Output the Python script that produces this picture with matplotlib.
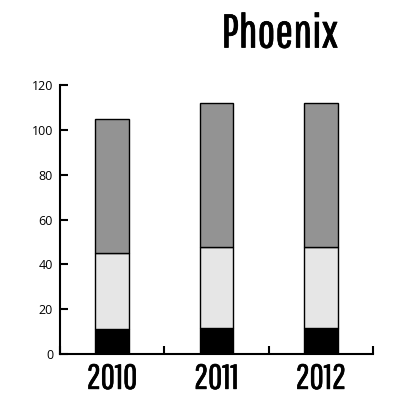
import matplotlib
matplotlib.use('Agg')
import matplotlib.pyplot as plt
import matplotlib.patheffects as pe
import numpy as np

years = ['2010', '2011', '2012']
black_vals = [11.2, 11.4, 11.4]
light_vals = [34.1, 36.4, 36.4]
dark_vals = [59.8, 64.3, 64.3]

narrow = ['Pathway Gothic One', 'DejaVu Sans']
thick = [pe.withStroke(linewidth=0.5, foreground='black')]

fig = plt.figure(figsize=(4, 4), dpi=100)
ax = fig.add_axes([0.15, 0.115, 0.7825, 0.6715])

x = np.arange(len(years))
w = 0.32
bottom1 = np.array(black_vals)
bottom2 = bottom1 + np.array(light_vals)
ax.bar(x, black_vals, w, color='black', edgecolor='black', linewidth=1)
ax.bar(x, light_vals, w, bottom=bottom1, color='#e6e6e6', edgecolor='black', linewidth=1)
ax.bar(x, dark_vals, w, bottom=bottom2, color='#939393', edgecolor='black', linewidth=1)

ax.set_xlim(-0.5, 2.5)
ax.set_ylim(0, 120)
ax.set_yticks(range(0, 121, 20))
ax.tick_params(axis='y', direction='in', length=6, width=1.5, labelsize=9, pad=5)
for lab in ax.get_yticklabels():
    lab.set_family(['Open Sans', 'DejaVu Sans'])
ax.set_xticks([-0.5, 0.5, 1.5, 2.5])
ax.set_xticklabels([])
ax.tick_params(axis='x', direction='in', length=6, width=1.5)
for i, yr in enumerate(years):
    ax.text(i, -3.5, yr, ha='center', va='top', fontsize=25, family=narrow,
            path_effects=thick)

for s in ['top', 'right']:
    ax.spines[s].set_visible(False)
for s in ['left', 'bottom']:
    ax.spines[s].set_linewidth(1.5)

fig.text(0.70, 0.915, 'Phoenix', ha='center', va='center', fontsize=34,
         family=narrow, path_effects=thick)

fig.savefig('out.png', dpi=100)
